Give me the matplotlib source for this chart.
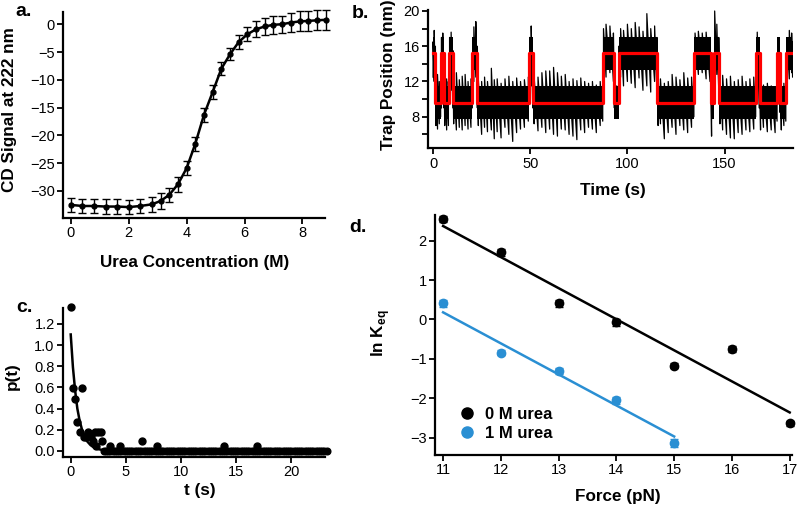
import numpy as np
import matplotlib
matplotlib.use("Agg")
import matplotlib.pyplot as plt
from matplotlib.lines import Line2D

plt.rcParams['font.family'] = ['Liberation Sans', 'DejaVu Sans']
plt.rcParams['mathtext.fontset'] = 'custom'
plt.rcParams['mathtext.bf'] = 'Liberation Sans:bold'
plt.rcParams['mathtext.rm'] = 'Liberation Sans'

# ---------------- data ----------------
# Panel a: CD denaturation
urea_conc = [0.0, 0.4, 0.8, 1.2, 1.6, 2.0, 2.4, 2.8, 3.1, 3.4, 3.7, 4.0, 4.3, 4.6,
             4.9, 5.2, 5.5, 5.8, 6.1, 6.4, 6.7, 7.0, 7.3, 7.6, 7.9, 8.2, 8.5, 8.8]
cd_signal = [-32.5, -32.7, -32.7, -32.8, -32.8, -32.9, -32.7, -32.4, -31.8, -30.7, -28.8,
             -25.9, -21.5, -16.3, -12.2, -8.0, -5.4, -3.2, -1.8, -0.9, -0.4, -0.1, 0.0,
             0.3, 0.5, 0.6, 0.7, 0.8]
cd_err = [1.2, 1.2, 1.3, 1.3, 1.3, 1.3, 1.2, 1.3, 1.4, 1.3, 1.3, 1.3, 1.3, 1.2,
          1.2, 1.2, 1.1, 1.2, 1.3, 1.4, 1.6, 1.6, 1.5, 1.7, 1.8, 1.8, 1.8, 1.8]

# Panel b: optical trap trace (red: two-state fit, black: trace)
step_times = [0.0, 1.2, 4.0, 5.7, 8.2, 10.3, 20.2, 22.8, 49.4, 51.5, 87.5, 93.1, 95.5,
              115.4, 134.3, 142.9, 144.6, 147.2, 166.4, 168.1, 177.2, 178.7, 181.8, 184.9]
step_levels = [15.2, 9.6, 15.2, 9.6, 15.2, 9.6, 15.2, 9.6, 15.2, 9.6, 15.2, 9.6, 15.2,
               9.6, 15.2, 9.6, 15.2, 9.6, 15.2, 9.6, 15.2, 9.6, 15.2, 15.2]
core_halfwidth = 1.9   # dense part of the noisy trace around each state
trace_t = [0.0, 0.6, 1.2, 1.5, 2.3, 3.2, 3.9, 4.3, 5.0, 5.6, 6.0, 7.0, 7.9, 8.5, 9.3, 10.2,
           10.6, 12.0, 13.5, 15.0, 16.5, 18.0, 19.5, 20.2, 21.0, 22.0, 22.8, 23.3, 25.0,
           26.5, 28.0, 30.0, 31.5, 33.0, 35.0, 37.0, 39.0, 41.0, 43.0, 45.0, 47.0, 49.0,
           49.7, 50.5, 51.3, 52.0, 54.0, 56.0, 58.0, 60.0, 62.0, 64.0, 66.0, 68.0, 70.0,
           72.0, 74.0, 76.0, 78.0, 80.0, 82.0, 84.0, 86.0, 87.3, 87.7, 89.0, 91.0, 92.8,
           93.3, 94.5, 95.5, 96.5, 98.0, 100.0, 102.0, 104.0, 106.0, 108.0, 110.0, 112.0,
           114.0, 115.2, 115.8, 117.0, 119.0, 121.0, 123.0, 125.0, 127.0, 129.0, 131.0,
           133.0, 134.2, 134.8, 136.5, 138.5, 140.5, 142.5, 143.3, 144.2, 144.9, 146.0,
           147.0, 147.6, 149.0, 151.0, 153.0, 155.0, 157.0, 159.0, 161.0, 163.0, 165.0,
           166.0, 166.8, 167.8, 168.5, 170.0, 172.0, 174.0, 176.0, 177.0, 177.7, 178.5,
           179.2, 180.5, 181.5, 182.2, 183.3, 184.5, 185.0]
trace_hi = [16.5, 17.8, 16.0, 12.5, 12.8, 12.0, 12.5, 17.0, 17.5, 15.0, 12.5, 12.3, 12.0,
            17.0, 17.6, 15.5, 12.0, 13.0, 12.2, 12.6, 12.8, 12.0, 12.3, 15.0, 18.2, 18.8,
            16.0, 12.2, 12.0, 12.5, 12.0, 13.5, 12.2, 12.3, 11.8, 12.3, 12.6, 12.0, 12.4,
            12.0, 12.2, 12.5, 17.0, 18.3, 15.0, 12.5, 12.5, 13.0, 13.2, 13.2, 13.6, 13.0,
            12.6, 12.8, 12.0, 12.3, 12.1, 12.4, 12.0, 11.8, 12.0, 11.6, 12.0, 12.5, 18.0,
            18.5, 18.3, 17.5, 12.0, 11.5, 16.0, 18.0, 17.8, 18.5, 18.0, 18.7, 18.2, 17.7,
            19.7, 18.0, 18.3, 17.0, 12.5, 12.3, 11.8, 12.0, 12.8, 12.5, 12.2, 13.0, 12.4,
            12.5, 12.8, 17.5, 17.7, 17.5, 17.6, 17.0, 11.5, 12.5, 20.0, 18.5, 17.0, 12.5,
            12.7, 12.3, 12.6, 12.0, 12.2, 12.6, 12.0, 12.3, 12.5, 12.5, 17.6, 15.0, 12.0,
            11.6, 11.8, 11.5, 11.4, 12.0, 15.4, 14.0, 11.5, 11.8, 12.5, 16.5, 17.8, 17.5,
            16.5]
trace_lo = [12.5, 12.0, 10.5, 7.0, 6.6, 7.2, 8.0, 9.0, 11.0, 9.0, 7.0, 6.5, 7.0, 9.5,
            11.0, 9.0, 7.2, 6.5, 6.8, 6.5, 7.0, 6.6, 6.8, 9.0, 12.0, 12.5, 9.0, 7.0, 6.0,
            6.8, 6.3, 6.5, 5.5, 6.3, 5.6, 6.8, 6.0, 5.2, 6.2, 6.6, 6.8, 7.5, 10.0, 11.5,
            9.0, 7.2, 6.4, 6.8, 6.2, 6.6, 6.0, 5.8, 6.6, 6.5, 6.0, 5.8, 5.4, 6.5, 6.2,
            6.8, 6.6, 6.2, 7.0, 7.5, 12.0, 12.5, 13.0, 12.0, 9.0, 8.4, 11.0, 12.5, 11.5,
            12.0, 11.8, 11.3, 12.4, 11.0, 11.5, 10.8, 12.0, 11.0, 7.0, 7.2, 5.5, 6.2, 6.8,
            6.0, 7.0, 6.5, 6.2, 6.8, 8.0, 12.5, 12.8, 13.0, 12.3, 12.0, 5.8, 8.0, 12.0,
            12.8, 11.0, 7.2, 6.5, 6.0, 5.6, 5.5, 6.2, 6.0, 6.5, 6.3, 6.6, 8.0, 10.5, 9.0,
            6.5, 6.8, 6.3, 6.5, 6.2, 7.5, 9.5, 8.5, 6.5, 7.0, 7.5, 12.0, 12.3, 13.0, 12.5]

# Panel c: dwell-time distribution
t_nonzero = [0.0, 0.18, 0.4, 0.55, 0.8, 1.0, 1.2, 1.4, 1.6, 1.8, 2.0, 2.2, 2.33, 2.45,
             2.7, 2.85, 3.56, 4.5, 6.5, 7.8, 13.9, 16.9]
p_nonzero = [1.355, 0.59, 0.495, 0.27, 0.18, 0.59, 0.135, 0.135, 0.18, 0.135, 0.09,
             0.18, 0.045, 0.18, 0.18, 0.09, 0.045, 0.045, 0.09, 0.045, 0.045, 0.045]
zero_bin_start, zero_bin_stop, zero_bin_width = 3.0, 23.25, 0.2
fit_t = [0.0, 0.2, 0.4, 0.6, 0.8, 1.0, 1.25, 1.5, 1.8, 2.1, 2.5, 3.0, 3.5, 4.0, 5.0, 23.2]
fit_p = [1.10, 0.79, 0.57, 0.40, 0.29, 0.21, 0.14, 0.09, 0.055, 0.033, 0.017, 0.007,
         0.003, 0.001, 0.0, 0.0]

# Panel d: ln Keq vs force
force0 = [11, 12, 13, 14, 15, 16, 17]
lnk0 = [2.54, 1.70, 0.41, -0.07, -1.17, -0.75, -2.64]
err0 = [0.08, 0.09, 0.09, 0.09, 0.07, 0.07, 0.07]
force1 = [11, 12, 13, 14, 15]
lnk1 = [0.41, -0.84, -1.31, -2.05, -3.14]
err1 = [0.09, 0.07, 0.08, 0.09, 0.1]
fit0_x, fit0_y = [11, 17], [2.37, -2.36]
fit1_x, fit1_y = [11, 15], [0.18, -2.97]
labels_d = ['0 M urea', '1 M urea']
blue = '#2a8fd3'

# ---------------- figure ----------------
W, H = 800, 512
fig = plt.figure(figsize=(W / 100, H / 100), dpi=100)


def ax_px(left, top, right, bottom):
    return fig.add_axes([left / W, 1 - bottom / H, (right - left) / W, (bottom - top) / H])


def style(ax):
    for s in ['top', 'right']:
        ax.spines[s].set_visible(False)
    for s in ['left', 'bottom']:
        ax.spines[s].set_linewidth(1.6)
    ax.tick_params(direction='out', length=4, width=1.3, labelsize=10.5, pad=2)


def ftext(x, y, s, **kw):
    fig.text(x / W, 1 - y / H, s, **kw)


lab = dict(fontsize=12.3, fontweight='bold', ha='center', va='center')

# Panel a
ax = ax_px(63, 12, 325, 218)
style(ax)
ax.errorbar(urea_conc, cd_signal, yerr=cd_err, fmt='o-', color='black', ms=3.5,
            lw=1.8, elinewidth=1.0, capsize=3, capthick=1.0, clip_on=False)
ax.set_xlim(-0.27, 8.78)
ax.set_ylim(-34.86, 2.2)
ax.set_xticks([0, 2, 4, 6, 8])
ax.set_yticks([0, -5, -10, -15, -20, -25, -30])
ftext(10, 110, 'CD Signal at 222 nm', rotation=90, **lab)
ftext(195, 262, 'Urea Concentration (M)', **lab)
ftext(24, 12, 'a.', fontsize=14, fontweight='bold', ha='center', va='center')

# Panel b
ax = ax_px(428, 9.5, 793, 148.3)
style(ax)
lv = np.array(step_levels)
ax.fill_between(step_times, lv - core_halfwidth, lv + core_halfwidth, step='post',
                color='black', lw=0)
# noisy trace: alternate between the read low and high excursions
zig_t = np.repeat(trace_t, 2)
zig_y = np.column_stack([trace_lo, trace_hi]).ravel()
ax.plot(zig_t, zig_y, color='black', lw=0.9)
ax.step(step_times, step_levels, where='post', color='#ff0000', lw=2.3)
ax.set_xlim(-2.6, 185.2)
ax.set_ylim(4.42, 20.17)
ax.set_xticks([0, 50, 100, 150])
ax.set_yticks([6, 8, 10, 12, 14, 16, 18, 20])
ax.set_yticklabels(['', '8', '', '12', '', '16', '', '20'])
ftext(389, 75, 'Trap Position (nm)', rotation=90, **lab)
ftext(613, 190, 'Time (s)', **lab)
ftext(360, 13, 'b.', fontsize=14, fontweight='bold', ha='center', va='center')

# Panel c
ax = ax_px(63, 308, 325, 457)
style(ax)
t_zero = np.arange(zero_bin_start, zero_bin_stop, zero_bin_width)
ax.plot(t_zero, np.zeros_like(t_zero), 'o', color='black', ms=4.8, clip_on=False)
ax.plot(t_nonzero, p_nonzero, 'o', color='black', ms=5.0, clip_on=False)
ax.plot(fit_t, fit_p, '-', color='black', lw=1.8, clip_on=False)
ax.set_xlim(-0.7, 23.05)
ax.set_ylim(-0.057, 1.35)
ax.set_xticks([0, 5, 10, 15, 20])
ax.set_yticks([0.0, 0.2, 0.4, 0.6, 0.8, 1.0, 1.2])
ax.yaxis.set_major_formatter(matplotlib.ticker.FormatStrFormatter('%.1f'))
ftext(12, 376, 'p(t)', rotation=90, **lab)
ftext(200, 490, 't (s)', **lab)
ftext(24, 307, 'c.', fontsize=14, fontweight='bold', ha='center', va='center')

# Panel d
ax = ax_px(435, 215, 792, 455)
style(ax)
ax.plot(fit0_x, fit0_y, '-', color='black', lw=1.8)
ax.plot(fit1_x, fit1_y, '-', color=blue, lw=1.8)
ax.errorbar(force0, lnk0, yerr=err0, fmt='o', color='black', ms=6, elinewidth=1.0,
            capsize=3, clip_on=False)
ax.errorbar(force1, lnk1, yerr=err1, fmt='o', color=blue, ms=6, elinewidth=1.0,
            capsize=3, clip_on=False)
ax.set_xlim(10.86, 17.04)
ax.set_ylim(-3.44, 2.65)
ax.set_xticks([11, 12, 13, 14, 15, 16, 17])
ax.set_yticks([-3, -2, -1, 0, 1, 2])
handles = [Line2D([], [], marker='o', ls='', color='black', ms=8),
           Line2D([], [], marker='o', ls='', color=blue, ms=8)]
ax.legend(handles, labels_d, loc='lower left', bbox_to_anchor=(0.02, -0.005),
          frameon=False, prop={'weight': 'bold', 'size': 12}, handletextpad=0.5,
          labelspacing=0.25, handlelength=1.2)
ftext(381, 333, r'ln K$_{\mathbf{eq}}$', rotation=90, **lab)
ftext(618, 497, 'Force (pN)', **lab)
ftext(358, 228, 'd.', fontsize=14, fontweight='bold', ha='center', va='center')

fig.savefig('out.png', dpi=100)
